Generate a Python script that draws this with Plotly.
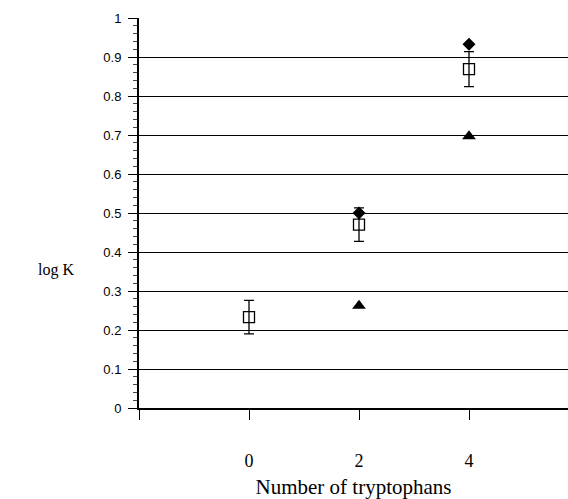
import plotly.graph_objects as go

tryptophans = [0, 2, 4]
mean_logk = [0.233, 0.470, 0.869]
mean_err = [0.043, 0.043, 0.045]
diamond_x = [2, 4]
diamond_logk = [0.50, 0.933]
triangle_x = [2, 4]
triangle_logk = [0.262, 0.697]
x_tickvals = [-2, 0, 2, 4]
x_ticktext = ["", "0", "2", "4"]

W, H = 568, 499
L, T, B = 139, 18, 91

fig = go.Figure()
fig.add_trace(go.Scatter(
    x=tryptophans, y=mean_logk, mode="markers",
    marker=dict(symbol="square-open", size=11, color="black", line=dict(width=1.3)),
    error_y=dict(type="data", array=mean_err, visible=True, color="black", thickness=1.3, width=5),
    showlegend=False))
fig.add_trace(go.Scatter(
    x=diamond_x, y=diamond_logk, mode="markers",
    marker=dict(symbol="diamond", size=10, color="black"), showlegend=False))
fig.add_trace(go.Scatter(
    x=triangle_x, y=triangle_logk, mode="markers",
    marker=dict(symbol="triangle-up", size=12, color="black"), showlegend=False))

fig.update_layout(
    width=W, height=H,
    margin=dict(l=L, r=0, t=T, b=B),
    plot_bgcolor="white", paper_bgcolor="white",
    xaxis=dict(
        range=[-2, 5.8], tickvals=x_tickvals, ticktext=x_ticktext,
        showgrid=False, zeroline=False, showline=True, linecolor="black", linewidth=1.5,
        ticks="outside", ticklen=10, tickcolor="black", tickwidth=1.3,
        ticklabelstandoff=26,
        tickfont=dict(family="Liberation Serif", size=18, color="black"),
        title=dict(text="Number of tryptophans", standoff=9,
                   font=dict(family="Liberation Serif", size=21, color="black")),
    ),
    yaxis=dict(
        range=[0, 1], dtick=0.1, tickformat="~g",
        showgrid=True, gridcolor="black", gridwidth=1,
        zeroline=False, showline=True, linecolor="black", linewidth=2,
        ticks="outside", ticklen=9, tickcolor="black", tickwidth=1,
        ticklabelstandoff=4,
        minor=dict(dtick=0.02, ticks="outside", ticklen=4, tickcolor="#444", showgrid=False),
        tickfont=dict(family="Liberation Sans", size=13, color="black"),
    ),
    annotations=[dict(text="log K", x=(56 - L) / (W - L), y=(408 - 270) / 390,
                      xref="paper", yref="paper", xanchor="center", yanchor="middle",
                      showarrow=False,
                      font=dict(family="Liberation Serif", size=16, color="black"))],
)
fig.write_html("out.html", config={"displayModeBar": False},
               post_script="document.body.style.margin='0';document.body.style.overflow='hidden';")
